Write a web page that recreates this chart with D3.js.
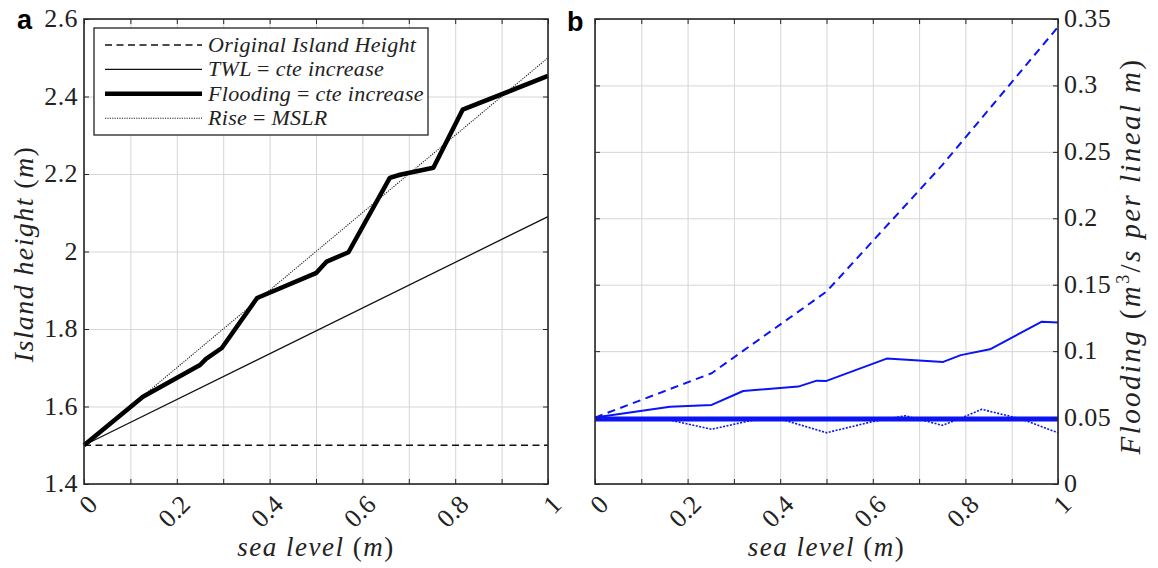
<!DOCTYPE html>
<html>
<head>
<meta charset="utf-8">
<script src="https://cdn.jsdelivr.net/npm/d3@7"></script>
<style>
  body { margin: 0; background: #fff; }
  svg { display: block; }
  .tick line { stroke: #262626; }
  .grid .tick line { stroke: #d6d6d6; }
  .domain { display: none; }
</style>
</head>
<body>
<div id="chart"></div>
<script>
// ---- data ----
// panel a : island height vs sea level
const seaEnds = [0, 1];
const originalHeight = [1.5, 1.5];
const twlHeight = [1.5, 2.09];
const mslrHeight = [1.5, 2.5];
const floodSea = [0, 0.127, 0.25, 0.263, 0.297, 0.373, 0.501, 0.523, 0.57, 0.659, 0.681, 0.753, 0.816, 1];
const floodHeight = [1.5, 1.625, 1.707, 1.723, 1.751, 1.88, 1.945, 1.974, 1.998, 2.19, 2.198, 2.216, 2.366, 2.453];

// panel b : flooding vs sea level
const qOrigSea = [0, 0.252, 0.5, 0.75, 1];
const qOrig = [0.05, 0.0834, 0.1448, 0.24, 0.344];
const qTwlSea = [0, 0.162, 0.252, 0.32, 0.439, 0.479, 0.5, 0.63, 0.752, 0.79, 0.853, 0.965, 1];
const qTwl = [0.05, 0.0582, 0.0595, 0.07, 0.0733, 0.0778, 0.0776, 0.0944, 0.0919, 0.097, 0.1014, 0.1222, 0.1215];
const qFloodSea = [0, 1];
const qFlood = [0.049, 0.049];
const qMslrSea = [0, 0.15, 0.252, 0.335, 0.4, 0.5, 0.6, 0.67, 0.75, 0.79, 0.835, 0.92, 1];
const qMslr = [0.05, 0.049, 0.0412, 0.0477, 0.049, 0.0386, 0.047, 0.0514, 0.0442, 0.0495, 0.0562, 0.049, 0.0386];

const xTicks = [0, 0.1, 0.2, 0.3, 0.4, 0.5, 0.6, 0.7, 0.8, 0.9, 1];
const xLabels = [0, 0.2, 0.4, 0.6, 0.8, 1];
const aTicks = [1.4, 1.6, 1.8, 2, 2.2, 2.4, 2.6];
const bTicks = [0, 0.05, 0.1, 0.15, 0.2, 0.25, 0.3, 0.35];

const legendNames = [
  [['Original Island Height', 1]],
  [['TWL ', 1], ['= ', 0], ['cte increase', 1]],
  [['Flooding ', 1], ['= ', 0], ['cte increase', 1]],
  [['Rise ', 1], ['= ', 0], ['MSLR', 1]]
];

const W = 1158, H = 568;
const serif = 'Liberation Serif, DejaVu Serif, serif';
const blue = '#0a14f5';

const svg = d3.select('#chart').append('svg').attr('width', W).attr('height', H);

// writes math-like text: italic letters, upright symbols
function mathText(sel, parts) {
  parts.forEach((p) => {
    const t = sel.append('tspan').text(p[0]).attr('font-style', p[1] ? 'italic' : 'normal');
    if (p[2]) t.attr('font-size', p[2]).attr('dy', p[3]);
  });
  return sel;
}

function makePanel(x0, x1, yDomain, yTicks) {
  const top = 19, bottom = 484;
  const x = d3.scaleLinear().domain([0, 1]).range([x0, x1]);
  const y = d3.scaleLinear().domain(yDomain).range([bottom, top]);
  const g = svg.append('g');

  // grid
  g.append('g').attr('class', 'grid')
    .attr('transform', `translate(0,${bottom})`)
    .call(d3.axisBottom(x).tickValues(xTicks).tickSize(-(bottom - top)).tickFormat(''));
  g.append('g').attr('class', 'grid')
    .attr('transform', `translate(${x0},0)`)
    .call(d3.axisLeft(y).tickValues(yTicks).tickSize(-(x1 - x0)).tickFormat(''));

  return { g, x, y, top, bottom, x0, x1 };
}

function frame(p, yTicks, yLabelSide) {
  const { g, x, y, top, bottom, x0, x1 } = p;
  g.append('g').attr('transform', `translate(0,${bottom})`)
    .call(d3.axisBottom(x).tickValues(xTicks).tickSize(-5).tickFormat(''));
  g.append('g').attr('transform', `translate(0,${top})`)
    .call(d3.axisTop(x).tickValues(xTicks).tickSize(-5).tickFormat(''));
  g.append('g').attr('transform', `translate(${x0},0)`)
    .call(d3.axisLeft(y).tickValues(yTicks).tickSize(-5).tickFormat(''));
  g.append('g').attr('transform', `translate(${x1},0)`)
    .call(d3.axisRight(y).tickValues(yTicks).tickSize(-5).tickFormat(''));
  g.selectAll('.tick line').attr('stroke-width', 1);

  g.append('rect')
    .attr('x', x0).attr('y', top).attr('width', x1 - x0).attr('height', bottom - top)
    .attr('fill', 'none').attr('stroke', '#262626').attr('stroke-width', 1.6);

  // x tick labels, rotated
  g.selectAll('.xlab').data(xLabels).enter().append('text')
    .attr('class', 'xlab')
    .attr('transform', (d) => `translate(${x(d) + 15},${bottom + 22}) rotate(-45)`)
    .attr('text-anchor', 'end')
    .attr('font-family', serif).attr('font-size', 26).attr('fill', '#222')
    .text((d) => d);

  // y tick labels
  const right = yLabelSide === 'right';
  g.selectAll('.ylab').data(yTicks).enter().append('text')
    .attr('x', right ? x1 + 6 : x0 - 6)
    .attr('y', (d) => y(d) + 8)
    .attr('text-anchor', right ? 'start' : 'end')
    .attr('font-family', serif).attr('font-size', 26).attr('fill', '#222')
    .attr('letter-spacing', 0.4)
    .text((d) => d);

  // x title
  mathText(g.append('text')
    .attr('x', (x0 + x1) / 2).attr('y', 556)
    .attr('text-anchor', 'middle')
    .attr('font-family', serif).attr('font-size', 27).attr('fill', '#222')
    .attr('letter-spacing', 1.5),
    [['sea level ', 1], ['(', 0], ['m', 1], [')', 0]]);
}

function line(p, xs, ys, stroke, width, dash) {
  const gen = d3.line().x((d, i) => p.x(xs[i])).y((d) => p.y(d));
  p.g.append('path').datum(ys)
    .attr('d', gen)
    .attr('fill', 'none')
    .attr('stroke', stroke)
    .attr('stroke-width', width)
    .attr('stroke-linejoin', 'round')
    .attr('stroke-dasharray', dash || null);
}

// ---- panel a ----
const pa = makePanel(84, 548, [1.4, 2.6], aTicks);
line(pa, seaEnds, originalHeight, '#111', 1.6, '7,4.5');
line(pa, seaEnds, twlHeight, '#111', 1.3);
line(pa, seaEnds, mslrHeight, '#222', 1.1, '1.2,1.2');
line(pa, floodSea, floodHeight, '#000', 4.5);
frame(pa, aTicks, 'left');

mathText(svg.append('text')
  .attr('transform', 'translate(33,254) rotate(-90)')
  .attr('text-anchor', 'middle')
  .attr('font-family', serif).attr('font-size', 28).attr('fill', '#222')
  .attr('letter-spacing', 1.4),
  [['Island height ', 1], ['(', 0], ['m', 1], [')', 0]]);

// legend
const lg = svg.append('g');
lg.append('rect').attr('x', 94).attr('y', 28).attr('width', 334).attr('height', 107)
  .attr('fill', '#fff').attr('stroke', '#222').attr('stroke-width', 1.3);
const legendStyle = [
  ['#111', 1.6, '7,4.5'],
  ['#111', 1.3, null],
  ['#000', 4.5, null],
  ['#222', 1.1, '1.2,1.2']
];
legendNames.forEach((parts, i) => {
  const ly = 45 + i * 24.4;
  lg.append('line').attr('x1', 105).attr('x2', 202).attr('y1', ly).attr('y2', ly)
    .attr('stroke', legendStyle[i][0]).attr('stroke-width', legendStyle[i][1])
    .attr('stroke-dasharray', legendStyle[i][2]);
  mathText(lg.append('text').attr('x', 208).attr('y', ly + 7)
    .attr('font-family', serif).attr('font-size', 22).attr('fill', '#222')
    .attr('letter-spacing', 0.3), parts);
});

// ---- panel b ----
const pb = makePanel(595, 1058, [0, 0.35], bTicks);
line(pb, qOrigSea, qOrig, blue, 2, '8,5.5');
line(pb, qTwlSea, qTwl, blue, 2);
line(pb, qMslrSea, qMslr, blue, 1.6, '2,1.5');
line(pb, qFloodSea, qFlood, blue, 5);
frame(pb, bTicks, 'right');

mathText(svg.append('text')
  .attr('transform', 'translate(1140,256) rotate(-90)')
  .attr('text-anchor', 'middle')
  .attr('font-family', serif).attr('font-size', 29).attr('fill', '#222')
  .attr('letter-spacing', 2.4),
  [['Flooding ', 1], ['(', 0], ['m', 1], ['3', 0, 18, -11], ['/', 0, 29, 11], ['s per lineal m', 1], [')', 0]]);

// panel letters
svg.append('text').attr('x', 17).attr('y', 29)
  .attr('font-family', 'Liberation Sans, Arial, sans-serif').attr('font-weight', 'bold')
  .attr('font-size', 27).text('a');
svg.append('text').attr('x', 567).attr('y', 31)
  .attr('font-family', 'Liberation Sans, Arial, sans-serif').attr('font-weight', 'bold')
  .attr('font-size', 27).text('b');
</script>
</body>
</html>
